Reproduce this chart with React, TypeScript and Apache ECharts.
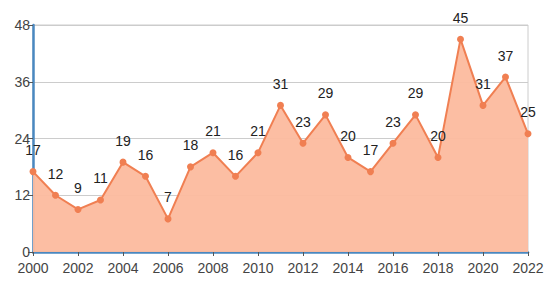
import React, { useEffect, useRef } from "react";
import * as echarts from "echarts";

const years = ["2000","2001","2002","2003","2004","2005","2006","2007","2008","2009","2010","2011","2012","2013","2014","2015","2016","2017","2018","2019","2020","2021","2022"];
const values = [17, 12, 9, 11, 19, 16, 7, 18, 21, 16, 21, 31, 23, 29, 20, 17, 23, 29, 20, 45, 31, 37, 25];
const yMin = 0;
const yMax = 48;
const yInterval = 12;

export default function App() {
  const ref = useRef<HTMLDivElement>(null);
  useEffect(() => {
    if (!ref.current) return;
    const chart = echarts.init(ref.current, null, { renderer: "svg" });
    chart.setOption({
      animation: false,
      backgroundColor: "#ffffff",
      grid: { left: 33, right: 23, top: 25, bottom: 30, show: true, borderColor: "#cccccc", borderWidth: 1, backgroundColor: "transparent" },
      xAxis: {
        type: "category",
        data: years,
        boundaryGap: false,
        axisLine: { lineStyle: { color: "#4a88c0", width: 2.5 } },
        axisTick: { show: true, interval: 1, length: 4, lineStyle: { color: "#555", width: 1 } },
        axisLabel: { interval: 1, color: "#444", fontSize: 14, fontFamily: "Liberation Sans, Arial, sans-serif", margin: 9 },
      },
      yAxis: {
        type: "value",
        min: yMin,
        max: yMax,
        interval: yInterval,
        axisLine: { show: true, lineStyle: { color: "#4a88c0", width: 2.5 } },
        axisTick: { show: true, length: 5, lineStyle: { color: "#555", width: 1 } },
        axisLabel: { color: "#444", fontSize: 14, fontFamily: "Liberation Sans, Arial, sans-serif", margin: 3 },
        splitLine: { lineStyle: { color: "#cccccc", width: 1 } },
      },
      series: [
        {
          type: "line",
          data: values,
          symbol: "circle",
          symbolSize: 7,
          itemStyle: { color: "#f07f52" },
          lineStyle: { color: "#f07f52", width: 2 },
          areaStyle: { color: "#fcbb9e", opacity: 0.95 },
          label: { show: true, position: "top", distance: 11, color: "#222", fontSize: 14, fontFamily: "Liberation Sans, Arial, sans-serif" },
        },
      ],
    });
    return () => chart.dispose();
  }, []);
  return <div ref={ref} style={{ width: 551, height: 282, position: "absolute", left: 0, top: 0 }} />;
}
